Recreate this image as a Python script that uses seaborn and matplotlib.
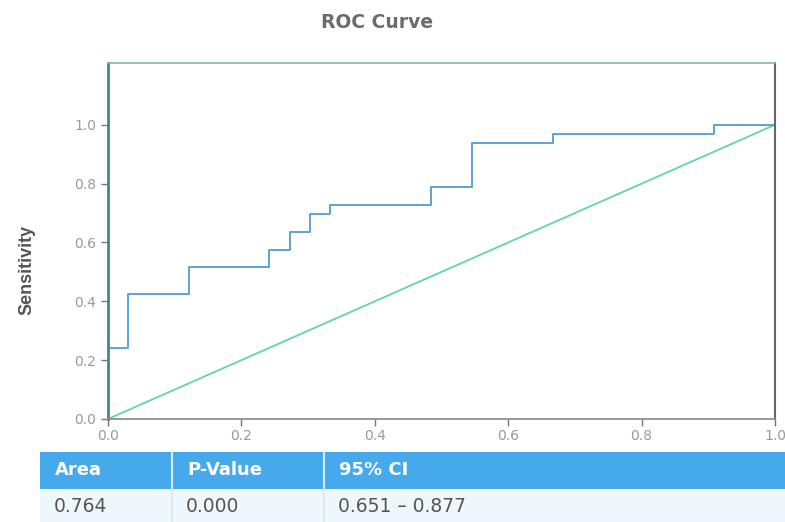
import matplotlib
matplotlib.use("Agg")
import matplotlib.pyplot as plt
import seaborn as sns
import pandas as pd
from matplotlib.patches import Rectangle

# ROC step points (1 - specificity, sensitivity)
fpr = [0.0, 0.0, 0.030, 0.030, 0.121, 0.121, 0.242, 0.242, 0.273, 0.273,
       0.303, 0.303, 0.333, 0.333, 0.485, 0.485, 0.545, 0.545, 0.667, 0.667,
       0.909, 0.909, 1.0]
tpr = [0.0, 0.242, 0.242, 0.424, 0.424, 0.515, 0.515, 0.576, 0.576, 0.636,
       0.636, 0.697, 0.697, 0.727, 0.727, 0.788, 0.788, 0.939, 0.939, 0.970,
       0.970, 1.0, 1.0]
ref_x = [0.0, 1.0]
ref_y = [0.0, 1.0]
tick_vals = [0.0, 0.2, 0.4, 0.6, 0.8, 1.0]
tick_labels = ["0.0", "0.2", "0.4", "0.6", "0.8", "1.0"]
table_headers = ["Area", "P-Value", "95% CI"]
table_values = ["0.764", "0.000", "0.651 \u2013 0.877"]

sns.set_style("white")
plt.rcParams["font.family"] = ["DejaVu Sans"]

fig = plt.figure(figsize=(7.85, 5.22), dpi=100)
ax = fig.add_axes([108 / 785, 1 - 419 / 522, (775 - 108) / 785, (419 - 63) / 522])

roc = pd.DataFrame({"x": fpr, "y": tpr})
ref = pd.DataFrame({"x": ref_x, "y": ref_y})
sns.lineplot(data=ref, x="x", y="y", ax=ax, color="#62d6a2", linewidth=1.3,
             sort=False, estimator=None)
sns.lineplot(data=roc, x="x", y="y", ax=ax, color="#5ea2d4", linewidth=1.4,
             sort=False, estimator=None)

ax.set_xlim(0, 1.0)
ax.set_ylim(0, 1.21)
ax.set_xticks(tick_vals)
ax.set_xticklabels(tick_labels)
ax.set_yticks(tick_vals)
ax.set_yticklabels(tick_labels)
ax.tick_params(axis="both", direction="out", length=5, width=1, color="#777777",
               labelcolor="#9a9a9a", labelsize=10, left=True, bottom=True)
ax.tick_params(axis="x", pad=2)
ax.set_xlabel("")
ax.set_ylabel("")

ax.spines["left"].set_color("#4f7f92")
ax.spines["left"].set_linewidth(2.0)
ax.spines["bottom"].set_color("#888888")
ax.spines["bottom"].set_linewidth(1.2)
ax.spines["top"].set_color("#7fb3b0")
ax.spines["top"].set_linewidth(1.2)
ax.spines["right"].set_color("#666666")
ax.spines["right"].set_linewidth(1.5)

fig.text(377 / 785, 1 - 23 / 522, "ROC Curve", ha="center", va="center",
         fontsize=13.5, fontweight="bold", color="#6b6b6b",
         family=["DejaVu Sans"])
fig.text(27 / 785, 1 - 270 / 522, "Sensitivity", ha="center", va="center",
         rotation=90, fontsize=13, fontweight="bold", color="#555555",
         family=["Liberation Sans Narrow", "Liberation Sans", "DejaVu Sans"])

# table
W, H = 785, 522
col_x = [40, 172, 324, 785]
hdr_top, hdr_bot, row_bot = 452, 489, 522
for i in range(3):
    fig.patches.append(Rectangle((col_x[i] / W, 1 - hdr_bot / H),
                                 (col_x[i + 1] - col_x[i]) / W, (hdr_bot - hdr_top) / H,
                                 transform=fig.transFigure, facecolor="#45a9ec",
                                 edgecolor="none"))
    fig.patches.append(Rectangle((col_x[i] / W, 1 - row_bot / H),
                                 (col_x[i + 1] - col_x[i]) / W, (row_bot - hdr_bot) / H,
                                 transform=fig.transFigure, facecolor="#eef7fc",
                                 edgecolor="none"))
for xs in col_x[1:3]:
    fig.lines.append(plt.Line2D([xs / W, xs / W], [1 - row_bot / H, 1 - hdr_top / H],
                                transform=fig.transFigure, color="#d8ecf8", linewidth=1.5))
for i in range(3):
    fig.text((col_x[i] + 15) / W, 1 - 470 / H, table_headers[i], ha="left", va="center",
             fontsize=13, fontweight="bold", color="white",
             family=["DejaVu Sans"])
    fig.text((col_x[i] + 14) / W, 1 - 507 / H, table_values[i],
             ha="left", va="center", fontsize=13.5, color="#555555",
             family=["DejaVu Sans"])

fig.savefig("out.png", dpi=100)
